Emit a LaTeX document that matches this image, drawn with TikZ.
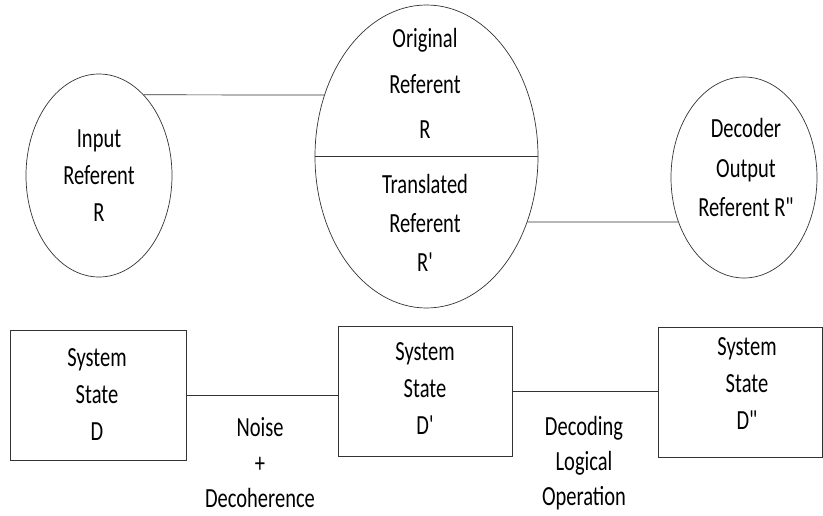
\documentclass[tikz,border=0pt]{standalone}
\usepackage{fontspec}
\setmainfont{Carlito}
\usetikzlibrary{shapes.geometric}

\tikzset{
  every node/.style={align=center},
  txt/.style={transform shape,yscale=1.35,font=\fontsize{20.5}{27.4}\selectfont},
  refnode/.style={draw=black!80,shape=ellipse,inner sep=0pt},
  statebox/.style={draw=black!80,shape=rectangle,inner sep=0pt,minimum height=130pt},
  link/.style={draw=black!80}
}

\begin{document}
\begin{tikzpicture}[x=1pt,y=-1pt,line width=0.7pt]
      \useasboundingbox (0,0) rectangle (823,516);
      % referents
      \node[refnode,minimum width=146pt,minimum height=203pt] (inp) at (99,175.5) {};
      \node[refnode,minimum width=223pt,minimum height=303pt] (big) at (426.5,156.5) {};
      \node[refnode,minimum width=146pt,minimum height=201pt] (dec) at (744,177.5) {};
      \node[txt] (inptext) at (99,176) {Input\\Referent\\R};
      \node[txt] (origtext) at (425,83.5) {Original\\[6.3pt]Referent\\[6.3pt]R};
      \node[txt] (transtext) at (425,223) {Translated\\[1.5pt]Referent\\[1.5pt]R\textquotesingle};
      \node[txt] (dectext) at (746,167.5) {Decoder\\[1.9pt]Output\\[1.9pt]Referent R\textquotedbl};
      \draw[link] (inp.61) -- (big.149);
      \draw[link] (big.west) -- (big.east);
      \draw[link] (big.-33) -- (dec.214);
      % system states
      \node[statebox,minimum width=176pt] (sd) at (98,395) {};
      \node[statebox,minimum width=174pt] (sdp) at (425,391) {};
      \node[statebox,minimum width=164pt] (sdpp) at (740,392) {};
      \node[txt] (sdtext) at (97,394.5) {System\\State\\D};
      \node[txt] (sdptext) at (425,388.5) {System\\State\\D\textquotesingle};
      \node[txt] (sdpptext) at (747,384) {System\\State\\D\textquotedbl};
      \draw[link] (sd.east) -- (sd.east -| sdp.west);
      \draw[link] (sdp.east) -- (sdp.east -| sdpp.west);
      \node[txt] (noise) at (260,463) {Noise\\[-1.1pt]+\\[-1.1pt]Decoherence};
      \node[txt] (decoding) at (584,463) {Decoding\\[-1.5pt]Logical\\[-1.5pt]Operation};
\end{tikzpicture}
\end{document}
